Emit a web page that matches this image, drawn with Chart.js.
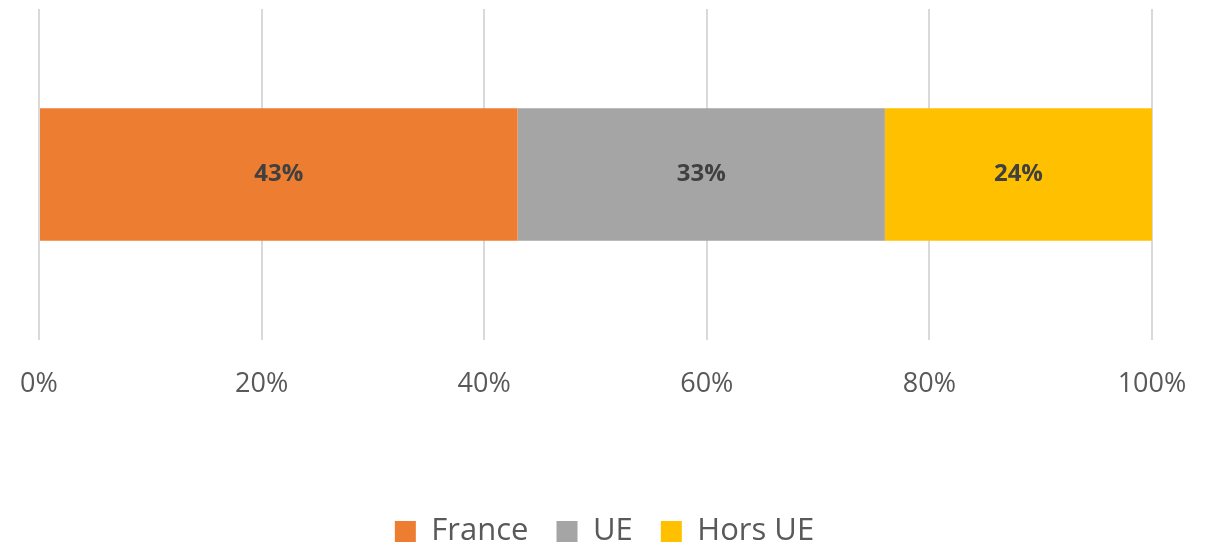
<!DOCTYPE html>
<html>
<head>
<meta charset="utf-8">
<script src="https://cdn.jsdelivr.net/npm/chart.js@4"></script>
<style>
  html, body { margin: 0; padding: 0; background: #fff; }
  #wrap { width: 1209px; height: 549px; }
</style>
</head>
<body>
<div id="wrap"><canvas id="myChart"></canvas></div>
<script>
// values
var categories = [""];
var seriesNames = ["France", "UE", "Hors UE"];
var france = [43];
var ue = [33];
var horsUe = [24];
var tickLabels = ["0%", "20%", "40%", "60%", "80%", "100%"];

var colors = ["#ED7D31", "#A5A5A5", "#FFC000"];
var seriesValues = [france, ue, horsUe];

var datasets = [];
for (var i = 0; i < seriesNames.length; i++) {
  datasets.push({
    label: seriesNames[i],
    data: seriesValues[i],
    backgroundColor: colors[i],
    borderWidth: 0,
    barPercentage: 0.4,
    categoryPercentage: 1.0,
  });
}

// draws the value inside each bar segment
var barLabels = {
  id: "barLabels",
  afterDatasetsDraw: function (chart) {
    var ctx = chart.ctx;
    ctx.save();
    ctx.font = "bold 24px 'Open Sans'";
    ctx.fillStyle = "#404040";
    ctx.textAlign = "center";
    ctx.textBaseline = "middle";
    chart.data.datasets.forEach(function (ds, i) {
      chart.getDatasetMeta(i).data.forEach(function (bar, j) {
        var cx = (bar.x + bar.base) / 2;
        ctx.fillText(ds.data[j] + "%", cx, bar.y);
      });
    });
    ctx.restore();
  },
};

var ctx = document.getElementById("myChart").getContext("2d");
var myChart = new Chart(ctx, {
  type: "bar",
  data: {
    labels: categories,
    datasets: datasets,
  },
  plugins: [barLabels],
  options: {
    indexAxis: "y",
    responsive: true,
    maintainAspectRatio: false,
    animation: false,
    layout: {
      padding: { left: 0, right: 0, top: 9, bottom: -8 },
    },
    scales: {
      x: {
        stacked: true,
        min: 0,
        max: 100,
        border: { display: false },
        grid: { color: "#D9D9D9", lineWidth: 2, drawTicks: false },
        ticks: {
          stepSize: 20,
          padding: 28,
          color: "#595959",
          font: { family: "'Open Sans'", size: 27 },
          callback: function (v, idx) {
            return tickLabels[idx];
          },
        },
        afterFit: function (scale) {
          scale.height = 148;
          // plot edges set here so the legend stays centred on the canvas
          scale.paddingLeft = 39;
          scale.paddingRight = 57;
        },
      },
      y: {
        stacked: true,
        display: false,
      },
    },
    plugins: {
      tooltip: { enabled: false },
      legend: {
        position: "bottom",
        labels: {
          boxWidth: 21,
          boxHeight: 21,
          padding: 28,
          color: "#595959",
          font: { family: "'Open Sans'", size: 31 },
        },
      },
    },
  },
});
</script>
</body>
</html>
